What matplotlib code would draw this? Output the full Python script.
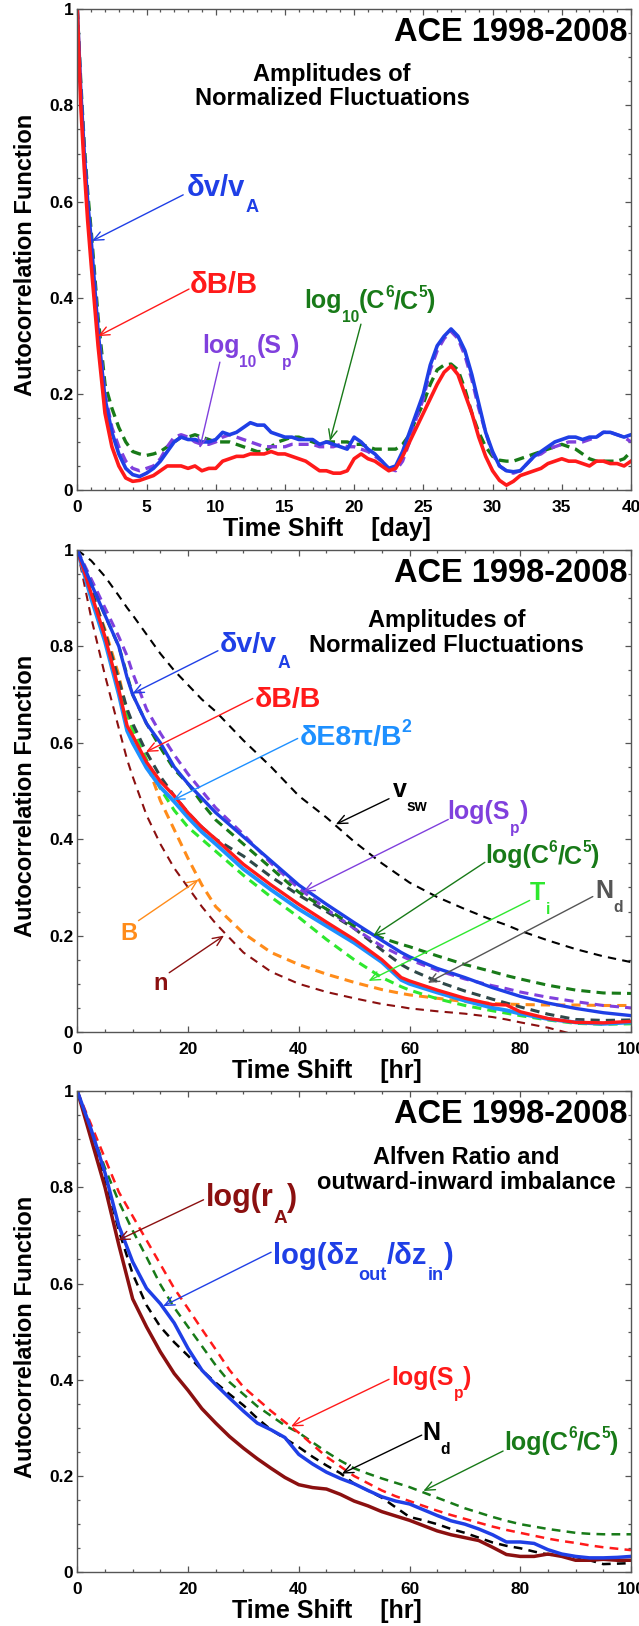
import matplotlib
matplotlib.use('Agg')
import matplotlib.pyplot as plt
from matplotlib.ticker import MultipleLocator, FuncFormatter
from matplotlib.transforms import IdentityTransform

plt.rcParams['font.family'] = ['Liberation Sans', 'DejaVu Sans']
plt.rcParams['font.weight'] = 'bold'

# ---- panel 1: day lags ----
day = [0, 0.25, 0.5, 0.75, 1, 1.5, 2, 2.5, 3, 3.5, 4, 4.5, 5,
       5.5, 6, 6.5, 7, 7.5, 8, 8.5, 9, 9.5, 10,
       10.5, 11, 11.5, 12, 12.5, 13, 13.5, 14, 14.5, 15,
       15.5, 16, 16.5, 17, 17.5, 18, 18.5, 19, 19.5, 20,
       20.5, 21, 21.5, 22, 22.5, 23, 23.5, 24, 24.5, 25,
       25.5, 26, 26.5, 27, 27.5, 28, 28.5, 29, 29.5, 30,
       30.5, 31, 31.5, 32, 32.5, 33, 33.5, 34, 34.5, 35,
       35.5, 36, 36.5, 37, 37.5, 38, 38.5, 39, 39.5, 40]
dv_day = [1.0, 0.83, 0.70, 0.60, 0.52, 0.33, 0.19, 0.12, 0.075, 0.045, 0.032, 0.028, 0.035,
          0.045, 0.06, 0.08, 0.10, 0.11, 0.105, 0.105, 0.10, 0.10, 0.105,
          0.12, 0.115, 0.12, 0.13, 0.14, 0.135, 0.135, 0.12, 0.115, 0.11,
          0.11, 0.105, 0.105, 0.105, 0.095, 0.10, 0.095, 0.09, 0.085, 0.11,
          0.10, 0.085, 0.075, 0.06, 0.045, 0.05, 0.08, 0.12, 0.16, 0.20,
          0.26, 0.30, 0.32, 0.335, 0.32, 0.29, 0.24, 0.18, 0.12, 0.08,
          0.05, 0.04, 0.038, 0.04, 0.055, 0.07, 0.08, 0.09, 0.10, 0.105,
          0.11, 0.11, 0.105, 0.11, 0.11, 0.12, 0.12, 0.115, 0.11, 0.115]
db_day = [1.0, 0.80, 0.67, 0.56, 0.47, 0.30, 0.16, 0.09, 0.05, 0.025, 0.018, 0.02, 0.025,
          0.03, 0.04, 0.05, 0.05, 0.05, 0.045, 0.05, 0.04, 0.045, 0.045,
          0.06, 0.065, 0.07, 0.07, 0.075, 0.075, 0.075, 0.08, 0.075, 0.075,
          0.07, 0.065, 0.06, 0.05, 0.04, 0.04, 0.035, 0.035, 0.04, 0.065,
          0.075, 0.065, 0.06, 0.05, 0.04, 0.045, 0.07, 0.10, 0.13, 0.16,
          0.19, 0.22, 0.245, 0.258, 0.24, 0.20, 0.16, 0.11, 0.07, 0.04,
          0.02, 0.01, 0.018, 0.03, 0.035, 0.04, 0.045, 0.055, 0.06, 0.065,
          0.06, 0.06, 0.055, 0.05, 0.06, 0.06, 0.055, 0.055, 0.05, 0.06]
sp_day = [1.0, 0.83, 0.70, 0.60, 0.52, 0.34, 0.20, 0.13, 0.09, 0.06, 0.045, 0.04, 0.045,
          0.05, 0.065, 0.09, 0.11, 0.115, 0.11, 0.10, 0.095, 0.095, 0.10,
          0.11, 0.115, 0.11, 0.105, 0.10, 0.095, 0.09, 0.09, 0.09, 0.09,
          0.095, 0.095, 0.095, 0.095, 0.09, 0.09, 0.09, 0.095, 0.09, 0.09,
          0.085, 0.08, 0.07, 0.06, 0.045, 0.04, 0.06, 0.10, 0.15, 0.19,
          0.25, 0.29, 0.315, 0.33, 0.315, 0.28, 0.23, 0.17, 0.12, 0.075,
          0.05, 0.04, 0.035, 0.04, 0.055, 0.07, 0.075, 0.085, 0.09, 0.095,
          0.10, 0.10, 0.10, 0.105, 0.11, 0.12, 0.12, 0.115, 0.11, 0.10]
c65_day = [1.0, 0.85, 0.72, 0.62, 0.54, 0.36, 0.22, 0.17, 0.13, 0.10, 0.08, 0.075, 0.072,
           0.075, 0.08, 0.09, 0.10, 0.11, 0.11, 0.115, 0.11, 0.105, 0.10,
           0.10, 0.10, 0.095, 0.09, 0.085, 0.08, 0.08, 0.09, 0.10, 0.105,
           0.11, 0.11, 0.105, 0.10, 0.095, 0.10, 0.10, 0.10, 0.10, 0.095,
           0.095, 0.09, 0.085, 0.085, 0.085, 0.085, 0.095, 0.115, 0.15, 0.18,
           0.22, 0.25, 0.26, 0.262, 0.25, 0.21, 0.16, 0.12, 0.09, 0.07,
           0.062, 0.06, 0.06, 0.065, 0.07, 0.075, 0.08, 0.085, 0.09, 0.095,
           0.09, 0.085, 0.075, 0.065, 0.06, 0.06, 0.06, 0.06, 0.065, 0.08]

# ---- panel 2: hour lags ----
hr2 = [0, 2.5, 5, 7.5, 9, 10, 12.5, 15, 17.5, 20, 22.5, 25, 30, 35, 40, 45,
       50, 55, 58.5, 60, 65, 70, 75, 77.5, 80, 85, 90, 95, 100]
vsw = [1.0, 0.978, 0.945, 0.905, 0.88, 0.865, 0.825, 0.785, 0.75, 0.72, 0.69, 0.665, 0.605,
       0.55, 0.49, 0.445, 0.395, 0.35, 0.322, 0.31, 0.28, 0.255, 0.232, 0.222, 0.21, 0.19,
       0.172, 0.157, 0.145]
dv_hr = [1.0, 0.93, 0.865, 0.80, 0.735, 0.70, 0.64, 0.60, 0.55, 0.515, 0.485, 0.455, 0.405,
         0.355, 0.305, 0.265, 0.227, 0.19, 0.165, 0.156, 0.132, 0.113, 0.092, 0.083, 0.074,
         0.06, 0.049, 0.04, 0.034]
db_hr = [1.0, 0.91, 0.82, 0.71, 0.635, 0.615, 0.56, 0.52, 0.49, 0.455, 0.425, 0.40, 0.348,
         0.305, 0.265, 0.228, 0.192, 0.15, 0.113, 0.106, 0.087, 0.07, 0.057, 0.056, 0.042,
         0.028, 0.02, 0.019, 0.022]
de_hr = [1.0, 0.90, 0.81, 0.70, 0.625, 0.60, 0.548, 0.508, 0.478, 0.445, 0.415, 0.39, 0.338,
         0.295, 0.255, 0.22, 0.185, 0.145, 0.108, 0.10, 0.082, 0.065, 0.05, 0.045, 0.038,
         0.027, 0.02, 0.017, 0.02]
sp_hr = [1.0, 0.94, 0.88, 0.82, 0.78, 0.745, 0.67, 0.62, 0.575, 0.535, 0.50, 0.465, 0.41,
         0.35, 0.298, 0.255, 0.215, 0.178, 0.158, 0.15, 0.128, 0.11, 0.096, 0.09, 0.083,
         0.072, 0.063, 0.055, 0.05]
c65_hr = [1.0, 0.93, 0.865, 0.80, 0.74, 0.70, 0.64, 0.59, 0.545, 0.515, 0.475, 0.44, 0.39,
          0.34, 0.29, 0.255, 0.22, 0.195, 0.182, 0.177, 0.158, 0.14, 0.125, 0.117, 0.11,
          0.097, 0.087, 0.081, 0.08]
b_hr = [1.0, 0.915, 0.835, 0.74, 0.66, 0.625, 0.56, 0.48, 0.42, 0.36, 0.305, 0.26, 0.205,
        0.165, 0.14, 0.12, 0.103, 0.088, 0.08, 0.077, 0.07, 0.063, 0.059, 0.058, 0.057,
        0.056, 0.056, 0.055, 0.055]
n_hr = [1.0, 0.86, 0.74, 0.63, 0.565, 0.53, 0.45, 0.39, 0.34, 0.30, 0.26, 0.225, 0.165,
        0.125, 0.10, 0.083, 0.07, 0.058, 0.052, 0.049, 0.043, 0.038, 0.031, 0.026, 0.02,
        0.009, -0.006, -0.03, -0.05]
ti_hr = [1.0, 0.91, 0.82, 0.72, 0.66, 0.63, 0.565, 0.505, 0.46, 0.425, 0.40, 0.375, 0.325,
         0.28, 0.238, 0.192, 0.15, 0.113, 0.094, 0.087, 0.069, 0.055, 0.044, 0.039, 0.034,
         0.025, 0.018, 0.016, 0.017]
nd_hr = [1.0, 0.92, 0.83, 0.73, 0.67, 0.64, 0.58, 0.53, 0.49, 0.455, 0.425, 0.40, 0.365,
         0.322, 0.284, 0.25, 0.215, 0.17, 0.14, 0.13, 0.105, 0.085, 0.068, 0.06, 0.052,
         0.037, 0.026, 0.024, 0.025]

# ---- panel 3: hour lags ----
hr3 = [0, 2.5, 5, 7.5, 10, 12.5, 15, 17.5, 20, 22.5, 25, 27.5, 30, 32.5, 35, 37.5, 40,
       42.5, 45, 47.5, 50, 52.5, 55, 57.5, 60, 62.5, 65, 67.5, 70, 72.5, 75, 77.5, 80,
       82.5, 85, 87.5, 90, 92.5, 95, 97.5, 100]
ra_hr = [1.0, 0.90, 0.80, 0.68, 0.568, 0.51, 0.458, 0.413, 0.378, 0.34, 0.31, 0.282, 0.258,
         0.236, 0.216, 0.197, 0.182, 0.176, 0.173, 0.162, 0.148, 0.138, 0.126, 0.117, 0.108,
         0.097, 0.086, 0.078, 0.072, 0.066, 0.052, 0.037, 0.033, 0.033, 0.038, 0.033, 0.025,
         0.025, 0.027, 0.025, 0.025]
dz_hr = [1.0, 0.92, 0.83, 0.72, 0.645, 0.59, 0.558, 0.518, 0.465, 0.42, 0.39, 0.362, 0.335,
         0.31, 0.296, 0.28, 0.245, 0.225, 0.208, 0.195, 0.184, 0.17, 0.157, 0.148, 0.142,
         0.13, 0.118, 0.107, 0.10, 0.09, 0.078, 0.063, 0.063, 0.06, 0.047, 0.038, 0.033,
         0.03, 0.03, 0.031, 0.033]
sp3_hr = [1.0, 0.93, 0.86, 0.79, 0.74, 0.69, 0.64, 0.59, 0.548, 0.505, 0.463, 0.42, 0.385,
          0.36, 0.335, 0.312, 0.29, 0.265, 0.24, 0.22, 0.20, 0.185, 0.17, 0.158, 0.148,
          0.138, 0.128, 0.119, 0.111, 0.103, 0.095, 0.088, 0.082, 0.076, 0.07, 0.065, 0.061,
          0.056, 0.052, 0.049, 0.046]
c65_3_hr = [1.0, 0.92, 0.84, 0.77, 0.71, 0.655, 0.598, 0.55, 0.51, 0.47, 0.43, 0.395, 0.37,
            0.345, 0.325, 0.305, 0.29, 0.27, 0.25, 0.232, 0.216, 0.205, 0.195, 0.186, 0.177,
            0.166, 0.155, 0.144, 0.133, 0.124, 0.115, 0.107, 0.10, 0.095, 0.09, 0.086, 0.082,
            0.08, 0.079, 0.079, 0.079]
nd3_hr = [1.0, 0.91, 0.82, 0.71, 0.62, 0.555, 0.51, 0.478, 0.45, 0.42, 0.394, 0.37, 0.347,
          0.32, 0.296, 0.278, 0.26, 0.24, 0.222, 0.206, 0.184, 0.17, 0.155, 0.135, 0.115,
          0.108, 0.10, 0.09, 0.082, 0.072, 0.062, 0.055, 0.05, 0.043, 0.037, 0.034, 0.032,
          0.025, 0.017, 0.018, 0.019]

BLUE = '#1f3fe6'
RED = '#ff1a1a'
PURPLE = '#8040dd'
DGREEN = '#187a18'
LBLUE = '#1e90ff'
LGREEN = '#2ee82e'
ORANGE = '#ff8c1a'
DRED = '#8b1010'
SLATE = '#2f4848'
DPI = 100


def yfmt(v, pos):
    if abs(v) < 1e-9:
        return '0'
    if abs(v - 1) < 1e-9:
        return '1'
    return '%.1f' % v


def style(ax, xmax, xmaj, xmin, unit):
    ax.set_xlim(0, xmax)
    ax.set_ylim(0, 1)
    ax.xaxis.set_major_locator(MultipleLocator(xmaj))
    ax.xaxis.set_minor_locator(MultipleLocator(xmin))
    ax.yaxis.set_major_locator(MultipleLocator(0.2))
    ax.yaxis.set_minor_locator(MultipleLocator(0.05))
    ax.yaxis.set_major_formatter(FuncFormatter(yfmt))
    ax.tick_params(which='both', direction='in', top=True, right=True,
                   color='#555555', width=0.9, labelsize=12.5)
    ax.tick_params(which='major', length=4.5)
    ax.tick_params(which='minor', length=2.2)
    ax.tick_params(axis='x', pad=7)
    ax.tick_params(axis='y', pad=3)
    for lab in ax.get_xticklabels() + ax.get_yticklabels():
        lab.set_fontweight('bold')
    for s in ax.spines.values():
        s.set_color('#555555')
        s.set_linewidth(1.0)
    ax.text(0.45, -0.081, 'Time Shift    [%s]' % unit, transform=ax.transAxes,
            ha='center', va='center', fontsize=18, fontweight='bold')
    ax.text(-0.093, 0.49, 'Autocorrelation Function', transform=ax.transAxes,
            ha='center', va='center', rotation=90, fontsize=17, fontweight='bold')
    ax.text(0.993, 0.951, 'ACE 1998-2008', transform=ax.transAxes,
            ha='right', va='center', fontsize=23.5, fontweight='bold')


def label(ax, x, y, s, color, size, tail, tip):
    # s: string with _x / ^x marking a lowered / raised chunk (IDL-like)
    parts = []
    for chunk in s.split('|'):
        if chunk.startswith('_'):
            parts.append((chunk[1:], -0.55, 0.62))
        elif chunk.startswith('^'):
            parts.append((chunk[1:], 0.45, 0.62))
        else:
            parts.append((chunk, 0.0, 1.0))
    r = ax.figure.canvas.get_renderer()
    x0, y0 = ax.transData.transform((x, y))
    for txt, dy, sc in parts:
        t = ax.text(x0, y0 + dy * size * DPI / 72.0, txt, transform=IdentityTransform(),
                    color=color, fontsize=size * sc, fontweight='bold',
                    ha='left', va='baseline')
        x0 = t.get_window_extent(r).x1
    ax.annotate('', xy=tip, xytext=tail,
                arrowprops=dict(arrowstyle='->,head_length=0.5,head_width=0.22',
                                color=color, lw=1.0, shrinkA=0, shrinkB=0,
                                mutation_scale=14))


fig = plt.figure(figsize=(6.39, 16.26), dpi=DPI)
W = 553.7 / 639
L = 77.3 / 639
ax1 = fig.add_axes([L, 1 - 490 / 1626, W, 480.7 / 1626])
ax2 = fig.add_axes([L, 1 - 1032 / 1626, W, 482 / 1626])
ax3 = fig.add_axes([L, 1 - 1572.3 / 1626, W, 481.3 / 1626])

# panel 1
ax1.plot(day, c65_day, color=DGREEN, lw=2.4, dashes=(3, 1.8))
ax1.plot(day, sp_day, color=PURPLE, lw=2.4, dashes=(3, 1.8))
ax1.plot(day, dv_day, color=BLUE, lw=2.6)
ax1.plot(day, db_day, color=RED, lw=2.6)
style(ax1, 40, 5, 1, 'day')
ax1.text(0.46, 0.865, 'Amplitudes of', transform=ax1.transAxes, ha='center',
         va='center', fontsize=17, fontweight='bold')
ax1.text(0.46, 0.815, 'Normalized Fluctuations', transform=ax1.transAxes,
         ha='center', va='center', fontsize=17, fontweight='bold')
label(ax1, 7.92, 0.612, 'δv/v|_A', BLUE, 21, (7.65, 0.614), (1.06, 0.518))
label(ax1, 8.14, 0.41, 'δB/B', RED, 21, (8.07, 0.418), (1.5, 0.32))
label(ax1, 16.38, 0.378, 'log|_10|(C|^6|/C|^5|)', DGREEN, 18, (20.49, 0.345), (18.25, 0.102))
label(ax1, 9.0, 0.285, 'log|_10|(S|_p|)', PURPLE, 18, (10.3, 0.266), (8.85, 0.087))

# panel 2
ax2.plot(hr2, vsw, color='black', lw=1.5, dashes=(4, 3))
ax2.plot(hr2, n_hr, color=DRED, lw=1.5, dashes=(4, 3))
ax2.plot(hr2, b_hr, color=ORANGE, lw=2.2, dashes=(3, 2))
ax2.plot(hr2, ti_hr, color=LGREEN, lw=2.2, dashes=(3, 2))
ax2.plot(hr2, nd_hr, color=SLATE, lw=2.2, dashes=(3, 2))
ax2.plot(hr2, sp_hr, color=PURPLE, lw=2.2, dashes=(3, 2))
ax2.plot(hr2, c65_hr, color=DGREEN, lw=2.2, dashes=(3, 2))
ax2.plot(hr2, de_hr, color=LBLUE, lw=2.8)
ax2.plot(hr2, db_hr, color=RED, lw=2.4)
ax2.plot(hr2, dv_hr, color=BLUE, lw=2.4)
style(ax2, 100, 20, 5, 'hr')
ax2.text(0.667, 0.853, 'Amplitudes of', transform=ax2.transAxes, ha='center',
         va='center', fontsize=17, fontweight='bold')
ax2.text(0.667, 0.801, 'Normalized Fluctuations', transform=ax2.transAxes,
         ha='center', va='center', fontsize=17, fontweight='bold')
label(ax2, 25.8, 0.788, 'δv/v|_A', BLUE, 20.5, (25.4, 0.791), (9.95, 0.702))
label(ax2, 32.1, 0.674, 'δB/B', RED, 20.5, (31.7, 0.692), (12.4, 0.581))
label(ax2, 40.1, 0.595, 'δE8π/B|^2', LBLUE, 20.5, (39.8, 0.609), (17.3, 0.481))
label(ax2, 57.0, 0.488, 'v|_sw', 'black', 18, (56.3, 0.484), (46.7, 0.431))
label(ax2, 66.9, 0.441, 'log(S|_p|)', PURPLE, 18, (67.0, 0.441), (40.8, 0.291))
label(ax2, 73.6, 0.35, 'log(C|^6|/C|^5|)', DGREEN, 18, (73.6, 0.352), (53.4, 0.199))
label(ax2, 81.8, 0.273, 'T|_i', LGREEN, 18, (81.7, 0.273), (52.6, 0.106))
label(ax2, 93.5, 0.277, 'N|_d', '#555555', 18, (93.1, 0.281), (63.3, 0.102))
label(ax2, 7.7, 0.191, 'B', ORANGE, 17, (11.05, 0.231), (21.9, 0.316))
label(ax2, 13.7, 0.088, 'n', DRED, 17, (16.6, 0.123), (26.5, 0.2))

# panel 3
ax3.plot(hr3, c65_3_hr, color=DGREEN, lw=1.8, dashes=(3.5, 2.5))
ax3.plot(hr3, sp3_hr, color=RED, lw=1.8, dashes=(3.5, 2.5))
ax3.plot(hr3, nd3_hr, color='black', lw=1.8, dashes=(3.5, 2.5))
ax3.plot(hr3, ra_hr, color=DRED, lw=2.5)
ax3.plot(hr3, dz_hr, color=BLUE, lw=2.5)
style(ax3, 100, 20, 5, 'hr')
ax3.text(0.703, 0.861, 'Alfven Ratio and', transform=ax3.transAxes, ha='center',
         va='center', fontsize=17, fontweight='bold')
ax3.text(0.703, 0.809, 'outward-inward imbalance', transform=ax3.transAxes,
         ha='center', va='center', fontsize=17, fontweight='bold')
label(ax3, 23.2, 0.761, 'log(r|_A|)', DRED, 22, (22.8, 0.774), (7.4, 0.69))
label(ax3, 35.3, 0.64, 'log(δz|_out|/δz|_in|)', BLUE, 21, (35.0, 0.665), (15.5, 0.553))
label(ax3, 56.7, 0.39, 'log(S|_p|)', RED, 18, (56.3, 0.401), (38.6, 0.303))
label(ax3, 62.3, 0.274, 'N|_d', 'black', 18, (62.2, 0.285), (47.8, 0.205))
label(ax3, 77.1, 0.255, 'log(C|^6|/C|^5|)', DGREEN, 18, (76.9, 0.252), (62.5, 0.169))

fig.savefig('out.png', dpi=DPI)
